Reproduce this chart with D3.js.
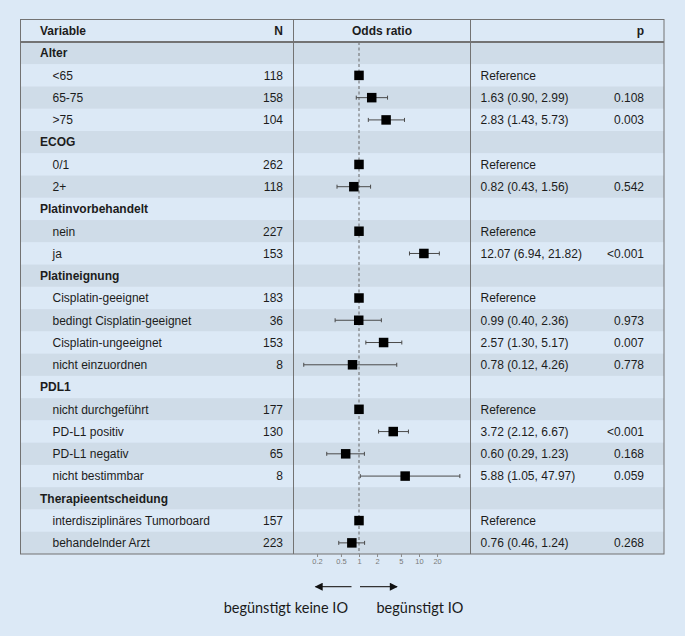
<!DOCTYPE html>
<html>
<head>
<meta charset="utf-8">
<script src="https://cdn.jsdelivr.net/npm/d3@7"></script>
<style>
  body { margin: 0; background: #dce9f6; }
  svg { display: block; }
</style>
</head>
<body>
<div id="container"></div>
<script>
/* DATA */
// group header rows have null in every value column
const rowLabels = ["Alter", "<65", "65-75", ">75",
  "ECOG", "0/1", "2+",
  "Platinvorbehandelt", "nein", "ja",
  "Platineignung", "Cisplatin-geeignet", "bedingt Cisplatin-geeignet", "Cisplatin-ungeeignet", "nicht einzuordnen",
  "PDL1", "nicht durchgeführt", "PD-L1 positiv", "PD-L1 negativ", "nicht bestimmbar",
  "Therapieentscheidung", "interdisziplinäres Tumorboard", "behandelnder Arzt"];
const rowN = [null, 118, 158, 104,
  null, 262, 118,
  null, 227, 153,
  null, 183, 36, 153, 8,
  null, 177, 130, 65, 8,
  null, 157, 223];
// reference categories have OR 1 and no interval
const oddsRatio = [null, 1, 1.63, 2.83,
  null, 1, 0.82,
  null, 1, 12.07,
  null, 1, 0.99, 2.57, 0.78,
  null, 1, 3.72, 0.60, 5.88,
  null, 1, 0.76];
const ciLow = [null, null, 0.90, 1.43,
  null, null, 0.43,
  null, null, 6.94,
  null, null, 0.40, 1.30, 0.12,
  null, null, 2.12, 0.29, 1.05,
  null, null, 0.46];
const ciHigh = [null, null, 2.99, 5.73,
  null, null, 1.56,
  null, null, 21.82,
  null, null, 2.36, 5.17, 4.26,
  null, null, 6.67, 1.23, 47.97,
  null, null, 1.24];
const pValues = [null, null, "0.108", "0.003",
  null, null, "0.542",
  null, null, "<0.001",
  null, null, "0.973", "0.007", "0.778",
  null, null, "<0.001", "0.168", "0.059",
  null, null, "0.268"];
const tickValues = [0.2, 0.5, 1, 2, 5, 10, 20];
const arrowLabels = ["begünstigt keine IO", "begünstigt IO"];

/* LAYOUT */
const width = 685, height = 636;
const table = {left: 20.5, right: 664, top: 19.5, header: 42, bottom: 554};
const col1 = 293.5, col2 = 470.5;
const bg = "#dce9f6", band = "#cfdce8", lineCol = "#737373", textCol = "#1c1c1c";
const font = "'Liberation Sans', Arial, sans-serif";

const rows = rowLabels.map((label, i) => ({
  i, label, n: rowN[i], or: oddsRatio[i], lo: ciLow[i], hi: ciHigh[i], p: pValues[i],
  group: rowN[i] === null
}));

/* SCALES */
const yScale = d3.scaleBand()
  .domain(rows.map(d => d.i))
  .range([table.header, table.bottom]);

// log scale: one decade = 60px, OR 1 sits at x=359
const xScale = d3.scaleLog()
  .domain([0.1, 100])
  .range([299, 479]);

const svg = d3.select("#container").append("svg")
  .attr("width", width)
  .attr("height", height)
  .style("font-family", font);

svg.append("rect").attr("width", width).attr("height", height).attr("fill", bg);

// row bands
svg.selectAll("rect.band")
  .data(rows)
  .join("rect")
  .attr("class", "band")
  .attr("x", table.left)
  .attr("width", table.right - table.left)
  .attr("y", d => yScale(d.i))
  .attr("height", yScale.bandwidth())
  .attr("fill", d => d.i % 2 === 0 ? band : bg);

// header text
const headY = (table.top + table.header) / 2 + 4.3;
const header = svg.append("g").attr("font-weight", "bold").attr("font-size", 12).attr("fill", textCol);
header.append("text").attr("x", 40).attr("y", headY).text("Variable");
header.append("text").attr("x", 283).attr("y", headY).attr("text-anchor", "end").text("N");
header.append("text").attr("x", (col1 + col2) / 2).attr("y", headY).attr("text-anchor", "middle").text("Odds ratio");
header.append("text").attr("x", 644).attr("y", headY).attr("text-anchor", "end").text("p");

// row text
const midY = d => yScale(d.i) + yScale.bandwidth() / 2 + 4.3;
const body = svg.append("g").attr("font-size", 12).attr("fill", textCol);

body.selectAll("text.label")
  .data(rows)
  .join("text")
  .attr("class", "label")
  .attr("x", d => d.group ? 40 : 52.5)
  .attr("y", midY)
  .attr("font-weight", d => d.group ? "bold" : "normal")
  .text(d => d.label);

body.selectAll("text.n")
  .data(rows.filter(d => !d.group))
  .join("text")
  .attr("class", "n")
  .attr("x", 283)
  .attr("y", midY)
  .attr("text-anchor", "end")
  .text(d => d.n);

body.selectAll("text.est")
  .data(rows.filter(d => !d.group))
  .join("text")
  .attr("class", "est")
  .attr("x", 480.5)
  .attr("y", midY)
  .text(d => d.lo === null ? "Reference"
    : `${d.or.toFixed(2)} (${d.lo.toFixed(2)}, ${d.hi.toFixed(2)})`);

body.selectAll("text.p")
  .data(rows.filter(d => d.p !== null))
  .join("text")
  .attr("class", "p")
  .attr("x", 644)
  .attr("y", midY)
  .attr("text-anchor", "end")
  .text(d => d.p);

// reference line at OR = 1
svg.append("line")
  .attr("x1", xScale(1)).attr("x2", xScale(1))
  .attr("y1", table.header).attr("y2", table.bottom)
  .attr("stroke", "#666").attr("stroke-width", 1)
  .attr("stroke-dasharray", "3,2.5");

// confidence intervals
const ciRows = rows.filter(d => d.lo !== null);
const cy = d => yScale(d.i) + yScale.bandwidth() / 2;
const ci = svg.append("g").attr("stroke", "#4a4a4a").attr("stroke-width", 1);
ci.selectAll("line.ci")
  .data(ciRows)
  .join("line")
  .attr("class", "ci")
  .attr("x1", d => xScale(d.lo)).attr("x2", d => xScale(d.hi))
  .attr("y1", cy).attr("y2", cy);
ci.selectAll("line.capL")
  .data(ciRows)
  .join("line")
  .attr("class", "capL")
  .attr("x1", d => xScale(d.lo)).attr("x2", d => xScale(d.lo))
  .attr("y1", d => cy(d) - 2).attr("y2", d => cy(d) + 2);
ci.selectAll("line.capR")
  .data(ciRows)
  .join("line")
  .attr("class", "capR")
  .attr("x1", d => xScale(d.hi)).attr("x2", d => xScale(d.hi))
  .attr("y1", d => cy(d) - 2).attr("y2", d => cy(d) + 2);

// point estimates
const sq = 9.5;
svg.selectAll("rect.pt")
  .data(rows.filter(d => !d.group))
  .join("rect")
  .attr("class", "pt")
  .attr("x", d => xScale(d.or) - sq / 2)
  .attr("y", d => cy(d) - sq / 2)
  .attr("width", sq).attr("height", sq)
  .attr("fill", "#000");

// table lines
const lines = svg.append("g").attr("stroke", lineCol).attr("fill", "none");
lines.append("rect")
  .attr("x", table.left).attr("y", table.top)
  .attr("width", table.right - table.left).attr("height", table.bottom - table.top);
lines.append("line").attr("x1", table.left).attr("x2", table.right)
  .attr("y1", table.header).attr("y2", table.header).attr("stroke-width", 2);
[col1, col2].forEach(x => lines.append("line")
  .attr("x1", x).attr("x2", x).attr("y1", table.top).attr("y2", table.bottom));

// x axis
const xAxis = d3.axisBottom(xScale)
  .tickValues(tickValues)
  .tickSize(3)
  .tickPadding(1.5)
  .tickFormat(d => d);
const axisG = svg.append("g")
  .attr("transform", `translate(0,${table.bottom})`)
  .call(xAxis);
axisG.select(".domain").remove();
axisG.selectAll("line").attr("stroke", "#8a8a8a");
axisG.selectAll("text").attr("fill", "#7a7a7a").attr("font-size", 7.5).attr("font-family", font);

// direction arrows
const x1 = xScale(1), arrowY = 586.7;
svg.append("defs").append("marker")
  .attr("id", "head")
  .attr("viewBox", "0 0 10 10")
  .attr("refX", 9).attr("refY", 5)
  .attr("markerWidth", 10).attr("markerHeight", 8)
  .attr("markerUnits", "userSpaceOnUse")
  .attr("orient", "auto")
  .append("path").attr("d", "M0,0 L10,5 L0,10 Z").attr("fill", "#111");
svg.append("line")
  .attr("x1", x1 - 7.5).attr("x2", x1 - 43.5)
  .attr("y1", arrowY).attr("y2", arrowY)
  .attr("stroke", "#333").attr("stroke-width", 1.3)
  .attr("marker-end", "url(#head)");
svg.append("line")
  .attr("x1", x1 + 1).attr("x2", x1 + 38)
  .attr("y1", arrowY).attr("y2", arrowY)
  .attr("stroke", "#333").attr("stroke-width", 1.3)
  .attr("marker-end", "url(#head)");

const arrowText = svg.append("g")
  .attr("font-family", "Lato, 'Open Sans', sans-serif")
  .attr("font-size", 14.5)
  .attr("fill", "#1a1a1a");
arrowText.append("text").attr("x", x1 - 11).attr("y", 613).attr("text-anchor", "end").text(arrowLabels[0]);
arrowText.append("text").attr("x", x1 + 17.5).attr("y", 613).text(arrowLabels[1]);
</script>
</body>
</html>
